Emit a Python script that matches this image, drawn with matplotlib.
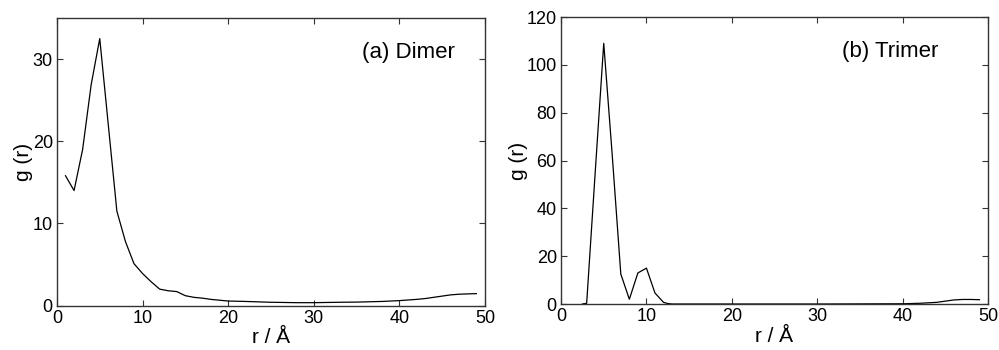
#!/usr/bin/env python3
"""Radial distribution g(r) for dimer and trimer, two panels side by side."""

import matplotlib
matplotlib.use('Agg')
import matplotlib.pyplot as plt

plt.rcParams['font.family'] = ['Liberation Sans', 'DejaVu Sans']

# r values (Angstrom)
r_dimer = [1, 2, 3, 4, 5, 6, 7, 8, 9, 10, 11, 12, 13, 14, 15, 16, 17, 18, 19, 20,
           22, 25, 28, 30, 33, 35, 38, 40, 42, 43, 44, 45, 46, 47, 48, 49]
g_dimer = [15.8, 14.0, 19.0, 26.9, 32.5, 22.0, 11.5, 7.8, 5.1, 3.9, 2.9, 2.0, 1.8, 1.7, 1.2,
           1.0, 0.9, 0.75, 0.65, 0.55, 0.5, 0.4, 0.35, 0.35, 0.4, 0.42, 0.5, 0.6, 0.75,
           0.85, 1.0, 1.15, 1.3, 1.38, 1.42, 1.45]

r_trimer = [2.5, 3, 4, 5, 6, 7, 8, 9, 10, 11, 12, 12.5, 13, 20, 30, 40, 42, 44, 45, 46, 47, 48, 49]
g_trimer = [0.0, 0.3, 55.0, 109.0, 62.0, 12.5, 2.0, 13.0, 15.0, 4.6, 0.7, 0.2, 0.0, 0.0, 0.0,
            0.1, 0.3, 0.7, 1.2, 1.7, 1.9, 1.9, 1.8]

panels = [
    (r_dimer, g_dimer, '(a) Dimer', 35, [0, 10, 20, 30], [0.057, 0.127, 0.4284, 0.8214], 0.93, -0.056),
    (r_trimer, g_trimer, '(b) Trimer', 120, [0, 20, 40, 60, 80, 100, 120],
     [0.5616, 0.1314, 0.4274, 0.82], 0.883, -0.077),
]

fig = plt.figure(figsize=(9.99, 3.5), dpi=100)

for r, g, label, ymax, yticks, pos, tx, ylab_x in panels:
    ax = fig.add_axes(pos)
    ax.plot(r, g, color='black', lw=0.9)
    ax.set_xlim(0, 50)
    ax.set_ylim(0, ymax)
    ax.set_xticks([0, 10, 20, 30, 40, 50])
    ax.set_yticks(yticks)
    ax.tick_params(direction='in', top=True, right=True, length=4, width=0.8,
                   labelsize=13, pad=3, colors='#333333', labelcolor='black')
    for s in ax.spines.values():
        s.set_linewidth(1.0)
        s.set_color('#333333')
    ax.set_xlabel('r / Å', fontsize=15, labelpad=1)
    ax.set_ylabel('g (r)', fontsize=15)
    ax.yaxis.set_label_coords(ylab_x, 0.5)
    ax.text(tx, 0.88, label, transform=ax.transAxes, ha='right', va='center', fontsize=16)

plt.savefig('out.png', dpi=100)
